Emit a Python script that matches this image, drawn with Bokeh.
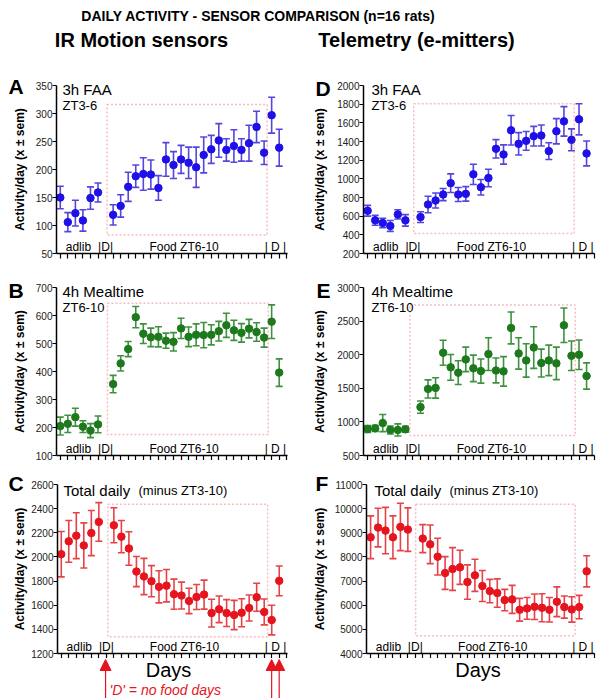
import math
from bokeh.plotting import figure
from bokeh.models import (ColumnDataSource, Whisker, TeeHead, BoxAnnotation, Label,
                          Range1d, FixedTicker, Arrow, NormalHead)
from bokeh.layouts import column, row
from bokeh.embed import file_html
from bokeh.resources import INLINE

FONT = "Liberation Sans"

# ---------------- data ----------------
days = [1, 2, 3, 4, 5, 6, 8, 9, 10, 11, 12, 13, 14, 15, 16, 17, 18, 19, 20,
        21, 22, 23, 24, 25, 26, 27, 28, 29, 30]
day_ticks = [1, 2, 3, 4, 5, 6, 7, 8, 9, 10, 11, 12, 13, 14, 15, 16, 17, 18, 19,
             20, 21, 22, 23, 24, 25, 26, 27, 28, 29, 30, 31]
no_food_days = [7, 29, 30]
section_labels = ["adlib", "|D|", "Food ZT6-10", "| D |"]
section_centers = [3.4, 7.0, 17.4, 29.5]

ir_faa_mean = [150, 106, 122, 109, 149, 159, 119, 135, 169, 188, 192, 191, 167, 218,
               208, 218, 212, 204, 226, 236, 252, 235, 242, 235, 247, 276, 230, 297, 239]
ir_faa_sem = [20, 17, 23, 19, 20, 17, 18, 20, 26, 20, 29, 26, 22, 30, 24, 25, 28, 36,
              32, 25, 30, 20, 29, 20, 32, 28, 21, 32, 33]
ir_faa_yticks = [50, 100, 150, 200, 250, 300, 350]

tel_faa_mean = [658, 555, 527, 495, 619, 555, 590, 725, 768, 832, 953, 832, 839, 1048,
                910, 1009, 1322, 1261, 1520, 1375, 1407, 1457, 1464, 1297, 1510, 1616,
                1418, 1638, 1272]
tel_faa_sem = [58, 53, 50, 58, 50, 62, 58, 88, 80, 65, 100, 75, 78, 108, 83, 94, 98,
               103, 158, 120, 100, 105, 112, 90, 135, 158, 117, 167, 133]
tel_faa_yticks = [200, 400, 600, 800, 1000, 1200, 1400, 1600, 1800, 2000]

ir_meal_mean = [205, 213, 237, 203, 189, 211, 355, 429, 480, 594, 535, 522, 524, 510,
                506, 554, 524, 531, 530, 531, 544, 565, 547, 538, 553, 541, 521, 578, 396]
ir_meal_sem = [32, 31, 32, 21, 25, 30, 31, 27, 27, 38, 35, 33, 36, 27, 33, 36, 35, 39,
               45, 36, 35, 43, 36, 33, 33, 33, 34, 60, 49]
ir_meal_yticks = [100, 200, 300, 400, 500, 600, 700]

tel_meal_mean = [894, 904, 983, 880, 880, 890, 1220, 1491, 1506, 2029, 1812, 1733, 1930,
                 1797, 1757, 2009, 1765, 1752, 2398, 2019, 1915, 2107, 1876, 1915, 1871,
                 2438, 1984, 1999, 1683]
tel_meal_sem = [50, 45, 128, 60, 90, 45, 92, 135, 152, 187, 192, 177, 182, 197, 180, 244,
                185, 219, 237, 234, 249, 310, 207, 227, 242, 256, 220, 219, 195]
tel_meal_yticks = [500, 1000, 1500, 2000, 2500, 3000]

ir_total_mean = [2023, 2129, 2176, 2095, 2198, 2290, 2262, 2168, 2070, 1879, 1838, 1799,
                 1752, 1762, 1691, 1680, 1635, 1668, 1688, 1535, 1566, 1535, 1519, 1538,
                 1577, 1666, 1544, 1477, 1802]
ir_total_sem = [188, 173, 190, 187, 187, 160, 145, 134, 139, 125, 150, 129, 133, 134, 125,
                111, 105, 104, 120, 115, 110, 111, 121, 116, 108, 116, 107, 123, 123]
ir_total_yticks = [1200, 1400, 1600, 1800, 2000, 2200, 2400, 2600]

tel_total_mean = [8814, 9215, 9091, 8814, 9243, 9132, 8759, 8523, 8012, 7334, 7500, 7569,
                  6960, 7237, 6794, 6587, 6504, 6213, 6241, 5812, 5867, 5937, 5895, 5812,
                  6144, 5923, 5826, 5923, 7403]
tel_total_sem = [885, 800, 960, 885, 980, 900, 580, 800, 760, 680, 885, 705, 712, 664, 643,
                 484, 588, 443, 581, 470, 450, 526, 581, 505, 615, 457, 525, 484, 643]
tel_total_yticks = [4000, 5000, 6000, 7000, 8000, 9000, 10000, 11000]

# ---------------- layout / style ----------------
FRAME_W = 231
HDR_H = 62
BOT_H = 40
# fa = height of the axis span in px; frame extends above it so letters fit inside
ROWS = [dict(h=208, top=11, bottom=17, fa=168, toff=4.0),
        dict(h=190, top=5, bottom=5, fa=168, toff=4.0),
        dict(h=198, top=12, bottom=5, fa=169, toff=5.5)]
COLS = [dict(sw=28, pw=266, left=28, right=7, x0=0.5, tx=6, ax=19, frame_px=56),
        dict(sw=37, pw=269, left=32, right=6, x0=0.45, tx=8, ax=25, frame_px=363)]
BLUE, BLUE_E = "#1e10e6", "#5446dc"
GREEN, GREEN_E = "#1c7a1c", "#3f913f"
RED, RED_E = "#e5141e", "#e44448"
BOX_C = "#e0222c"
PPU = 7.549  # pixels per day

panels = [
    dict(r=0, c=0, mean=ir_faa_mean, sem=ir_faa_sem, yt=ir_faa_yticks, col=BLUE, ecol=BLUE_E,
         letter="A", lx=8, ly=167.5, title="3h FAA", sub="ZT3-6", sub2=None, box=(7.2, 28.4, 83, 316)),
    dict(r=0, c=1, mean=tel_faa_mean, sem=tel_faa_sem, yt=tel_faa_yticks, col=BLUE, ecol=BLUE_E,
         letter="D", lx=21, ly=165.5, title="3h FAA", sub="ZT3-6", sub2=None, box=(7.1, 28.35, 413, 1804)),
    dict(r=1, c=0, mean=ir_meal_mean, sem=ir_meal_sem, yt=ir_meal_yticks, col=GREEN, ecol=GREEN_E,
         letter="B", lx=8, ly=165.5, title="4h Mealtime", sub="ZT6-10", sub2=None, box=(7.25, 28.55, 175, 644)),
    dict(r=1, c=1, mean=tel_meal_mean, sem=tel_meal_sem, yt=tel_meal_yticks, col=GREEN, ecol=GREEN_E,
         letter="E", lx=22, ly=165.5, title="4h Mealtime", sub="ZT6-10", sub2=None, box=(6.6, 28.5, 796, 2739)),
    dict(r=2, c=0, mean=ir_total_mean, sem=ir_total_sem, yt=ir_total_yticks, col=RED, ecol=RED_E,
         letter="C", lx=8, ly=170.5, title="Total daily", sub=None, sub2="(minus ZT3-10)", box=(7.2, 28.45, 1339, 2436)),
    dict(r=2, c=1, mean=tel_total_mean, sem=tel_total_sem, yt=tel_total_yticks, col=RED, ecol=RED_E,
         letter="F", lx=21, ly=170.5, title="Total daily", sub=None, sub2="(minus ZT3-10)", box=(7.05, 28.45, 4733, 10183)),
]


def lab(p, x, y, text, size, xu="data", yu="data", bold=False, italic=False,
        color="black", align="left", angle=0.0):
    style = "normal"
    if bold:
        style = "bold"
    elif italic:
        style = "italic"
    p.add_layout(Label(x=x, y=y, x_units=xu, y_units=yu, text=text, text_font=FONT,
                       text_font_size=f"{size}px", text_font_style=style,
                       text_color=color, text_align=align, text_baseline="middle",
                       angle=angle))


def blank(w, h, left=0, right=0, top=0, bottom=0, xr=None, yr=None):
    p = figure(width=w, height=h, title=None, toolbar_location=None, output_backend="svg",
               x_axis_type=None, y_axis_type=None,
               x_range=xr if xr is not None else Range1d(0, w),
               y_range=yr if yr is not None else Range1d(0, h - top - bottom),
               min_border_left=left, min_border_right=right, min_border_top=top,
               min_border_bottom=bottom)
    p.outline_line_color = None
    p.grid.visible = False
    return p


def side(s):
    R, C = ROWS[s["r"]], COLS[s["c"]]
    p = blank(C["sw"], R["h"], top=R["top"], bottom=R["bottom"])
    lab(p, s["lx"], s["ly"], s["letter"], 21, bold=True)
    lab(p, C["ax"], R["fa"] / 2, "Activity/day (x \u00b1 sem)", 12, bold=True,
        align="center", angle=math.pi / 2)
    return p


def make_panel(s):
    R, C = ROWS[s["r"]], COLS[s["c"]]
    yt = s["yt"]
    ymin, ymax = yt[0], yt[-1]
    fh = R["h"] - R["top"] - R["bottom"]
    ytop = ymax + (fh - R["fa"]) * (ymax - ymin) / R["fa"]
    p = figure(width=C["pw"], height=R["h"], title=None,
               x_range=Range1d(C["x0"], C["x0"] + FRAME_W / PPU),
               y_range=Range1d(ymin, ytop), min_border_left=C["left"],
               min_border_right=C["right"], min_border_top=R["top"],
               min_border_bottom=R["bottom"], toolbar_location=None,
               output_backend="svg")
    p.outline_line_color = None
    p.grid.visible = False

    xa = p.xaxis[0]
    xa.ticker = FixedTicker(ticks=day_ticks)
    xa.major_label_text_font_size = "0px"
    xa.major_label_standoff = 0
    xa.major_tick_in = 0
    xa.major_tick_out = 5
    xa.minor_tick_line_color = None
    xa.axis_line_width = 1.5
    xa.major_tick_line_width = 1.2
    xa.axis_line_color = "black"
    xa.major_tick_line_color = "black"

    ya = p.yaxis[0]
    ya.ticker = FixedTicker(ticks=yt)
    ya.bounds = (ymin, ymax)
    ya.major_tick_in = 0
    ya.major_tick_out = 4
    ya.major_label_standoff = 0
    ya.minor_tick_line_color = None
    ya.axis_line_width = 1.5
    ya.major_tick_line_width = 1.2
    ya.axis_line_color = "black"
    ya.major_tick_line_color = "black"
    ya.major_label_text_font = FONT
    ya.major_label_text_font_size = "10px"
    ya.major_label_text_color = "#222222"

    bl, br, bb, bt = s["box"]
    p.add_layout(BoxAnnotation(left=bl, right=br, bottom=bb, top=bt, fill_color=None,
                               line_color=BOX_C, line_dash="2 2", line_width=1.5))

    lo = [m - e for m, e in zip(s["mean"], s["sem"])]
    hi = [m + e for m, e in zip(s["mean"], s["sem"])]
    src = ColumnDataSource(dict(x=days, y=s["mean"], lo=lo, hi=hi))
    p.add_layout(Whisker(source=src, base="x", upper="hi", lower="lo", dimension="height",
                         line_color=s["ecol"], line_width=1.6,
                         upper_head=TeeHead(size=7, line_color=s["ecol"], line_width=1.6),
                         lower_head=TeeHead(size=7, line_color=s["ecol"], line_width=1.6)))
    p.scatter("x", "y", source=src, size=7.5, fill_color=s["col"], line_color=s["col"])

    fa = R["fa"]
    lab(p, C["tx"], fa - R["toff"], s["title"], 15, xu="screen", yu="screen")
    if s["sub"]:
        lab(p, C["tx"], fa - 19.5, s["sub"], 13, xu="screen", yu="screen")
    if s["sub2"]:
        lab(p, C["tx"] + 75, fa - R["toff"], s["sub2"], 13, xu="screen", yu="screen")
    for t, xc in zip(section_labels, section_centers):
        lab(p, xc, 6.5, t, 12, xu="data", yu="screen", align="center")
    return p


def bottom(c):
    C = COLS[c]
    left = C["frame_px"] - (0 if c == 0 else 294)
    w = left + FRAME_W + C["right"]
    x0 = C["x0"]
    p = blank(w, BOT_H, left=left, right=C["right"],
              xr=Range1d(x0, x0 + FRAME_W / PPU), yr=Range1d(0, BOT_H))

    def px2x(page_x):
        return x0 + (page_x - C["frame_px"]) / PPU

    centre = 168 if c == 0 else 477.5
    lab(p, px2x(centre), 29, "Days", 20, align="center")
    if c == 0:
        for d in no_food_days:
            p.add_layout(Arrow(end=NormalHead(size=11, fill_color=RED, line_color=RED,
                                              line_width=1),
                               x_start=d, y_start=0, x_end=d, y_end=BOT_H - 1,
                               line_color=RED, line_width=1.2))
        lab(p, px2x(109), 9, "'D' = no food days", 14, italic=True, color=RED)
    return p


hdr = blank(600, HDR_H)
lab(hdr, 258, HDR_H - 15, "DAILY ACTIVITY - SENSOR COMPARISON (n=16 rats)", 14,
    bold=True, align="center")
lab(hdr, 141, HDR_H - 39.5, "IR Motion sensors", 20, bold=True, align="center")
lab(hdr, 416, HDR_H - 39.5, "Telemetry (e-mitters)", 20, bold=True, align="center")

rows = []
for r in range(3):
    sl, sr = panels[2 * r], panels[2 * r + 1]
    rows.append(row(side(sl), make_panel(sl), side(sr), make_panel(sr)))

layout = column(hdr, *rows, row(bottom(0), bottom(1)))

open("out.html", "w").write(file_html(layout, INLINE))
